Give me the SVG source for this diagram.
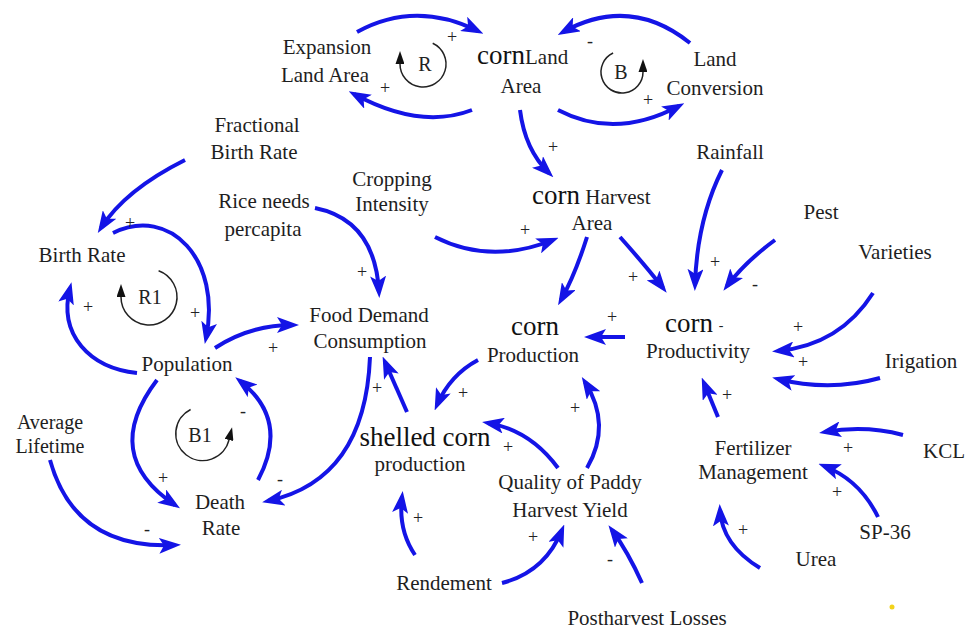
<svg xmlns="http://www.w3.org/2000/svg" width="972" height="630" viewBox="0 0 972 630" font-family="Liberation Serif, Times New Roman, Times, serif">
<style>
text{font-family:'Liberation Serif','Times New Roman',Times,serif}
.lbl{font-size:21px;fill:#1e1e1e;text-anchor:middle}
.st{text-anchor:start}
.big{font-size:27px;fill:#111}
.sgn{font-size:18px;fill:#222;text-anchor:middle}
.c{fill:none;stroke:#1414e6;stroke-width:4;marker-end:url(#ah)}
.loop{fill:none;stroke:#222;stroke-width:1.5;marker-end:url(#la)}
.lt{font-size:20px;fill:#222;text-anchor:middle}
</style>
<defs>
<marker id="ah" viewBox="0 0 22 16" markerWidth="22" markerHeight="16" refX="16" refY="8" orient="auto" markerUnits="userSpaceOnUse">
<path d="M0,0 L22,8 L0,16 L5,8 z" fill="#1414e6"/>
</marker>
<marker id="la" viewBox="0 0 13 9" markerWidth="13" markerHeight="9" refX="0" refY="4.5" orient="auto" markerUnits="userSpaceOnUse">
<path d="M0,0 L13,4.5 L0,9 z" fill="#111"/>
</marker>
</defs>
<rect width="972" height="630" fill="#fff"/>

<g id="connectors">
<path class="c" d="M357,32 Q415,0 478,31"/>
<path class="c" d="M472,110 Q420,130 354,94"/>
<path class="c" d="M690,43 Q630,-5 563,32"/>
<path class="c" d="M558,110 Q615,140 679,106"/>
<path class="c" d="M520,110 Q525,150 549,173"/>
<path class="c" d="M435,237 Q490,265 553,240"/>
<path class="c" d="M587,237 Q575,275 561,300"/>
<path class="c" d="M620,237 Q645,265 663,288"/>
<path class="c" d="M625,337 L590,337"/>
<path class="c" d="M722,170 Q697,220 695,285"/>
<path class="c" d="M775,240 Q745,262 727,286"/>
<path class="c" d="M873,293 Q840,345 778,351"/>
<path class="c" d="M880,378 Q830,392 778,379"/>
<path class="c" d="M718,417 L704,383"/>
<path class="c" d="M903,435 Q865,425 825,432"/>
<path class="c" d="M878,517 Q860,480 824,466"/>
<path class="c" d="M760,568 Q722,545 720,510"/>
<path class="c" d="M642,583 Q628,552 612,530"/>
<path class="c" d="M502,583 Q545,572 562,530"/>
<path class="c" d="M415,555 Q398,530 402,497"/>
<path class="c" d="M558,468 Q530,430 488,423"/>
<path class="c" d="M587,468 Q612,425 585,382"/>
<path class="c" d="M478,360 Q450,375 437,405"/>
<path class="c" d="M407,412 Q395,385 385,362"/>
<path class="c" d="M370,357 Q365,480 268,501"/>
<path class="c" d="M215,348 Q250,325 293,325"/>
<path class="c" d="M157,380 Q100,455 175,505"/>
<path class="c" d="M258,480 Q290,420 240,381"/>
<path class="c" d="M50,460 Q75,550 175,545"/>
<path class="c" d="M185,160 Q125,190 101,228"/>
<path class="c" d="M113,233 C170,205 222,260 206,338"/>
<path class="c" d="M137,373 C90,368 58,335 70,288"/>
<path class="c" d="M315,208 Q375,220 379,292"/>
</g>

<g id="loop-R">
<path class="loop" d="M432.7,43.2 A23,23 0 1 1 400,64"/>
<text class="lt" x="425" y="71">R</text>
</g>
<g id="loop-B">
<path class="loop" d="M613.1,53 A21,21 0 1 0 643,72"/>
<text class="lt" x="621" y="79">B</text>
</g>
<g id="loop-R1">
<path class="loop" d="M158.6,270.7 A28,28 0 1 1 121,297"/>
<text class="lt" x="150" y="304">R1</text>
</g>
<g id="loop-B1">
<path class="loop" d="M190.6,409.5 A27,27 0 1 0 229,440"/>
<text class="lt" x="200" y="442">B1</text>
</g>

<g id="expansion-land-area"><text class="lbl" x="327" y="54">Expansion</text><text class="lbl" x="325" y="82">Land Area</text></g>
<g id="corn-land-area"><text class="lbl st" x="477" y="64"><tspan class="big">corn</tspan>Land</text><text class="lbl" x="521" y="93">Area</text></g>
<g id="land-conversion"><text class="lbl" x="715" y="66">Land</text><text class="lbl" x="715" y="95">Conversion</text></g>
<g id="fractional-birth-rate"><text class="lbl" x="257" y="132">Fractional</text><text class="lbl" x="254" y="159">Birth Rate</text></g>
<g id="rice-needs"><text class="lbl" x="264" y="208">Rice needs</text><text class="lbl" x="263" y="236">percapita</text></g>
<g id="cropping-intensity"><text class="lbl" x="392" y="186">Cropping</text><text class="lbl" x="392" y="211">Intensity</text></g>
<g id="corn-harvest-area"><text class="lbl st" x="532" y="204"><tspan class="big">corn</tspan> Harvest</text><text class="lbl" x="592" y="230">Area</text></g>
<g id="rainfall"><text class="lbl" x="730" y="159">Rainfall</text></g>
<g id="pest"><text class="lbl" x="821" y="219">Pest</text></g>
<g id="varieties"><text class="lbl" x="895" y="259">Varieties</text></g>
<g id="birth-rate"><text class="lbl" x="82" y="262">Birth Rate</text></g>
<g id="food-demand"><text class="lbl" x="369" y="322">Food Demand</text><text class="lbl" x="370" y="348">Consumption</text></g>
<g id="corn-production"><text class="lbl big" x="535" y="335">corn</text><text class="lbl" x="533" y="362">Production</text></g>
<g id="corn-productivity"><text class="lbl big" x="689" y="332">corn</text><text class="sgn" x="721" y="330" style="font-size:14px">-</text><text class="lbl" x="698" y="358">Productivity</text></g>
<g id="irigation"><text class="lbl" x="921" y="368">Irigation</text></g>
<g id="population"><text class="lbl" x="187" y="371">Population</text></g>
<g id="average-lifetime"><text class="lbl" x="50" y="429" style="font-size:20px">Average</text><text class="lbl" x="50" y="453" style="font-size:20px">Lifetime</text></g>
<g id="shelled-corn-production"><text class="lbl big" x="425" y="446">shelled corn</text><text class="lbl" x="420" y="471">production</text></g>
<g id="fertilizer-management"><text class="lbl" x="753" y="455">Fertilizer</text><text class="lbl" x="753" y="479">Management</text></g>
<g id="kcl"><text class="lbl" x="944" y="458">KCL</text></g>
<g id="quality"><text class="lbl" x="570" y="489">Quality of Paddy</text><text class="lbl" x="570" y="517">Harvest Yield</text></g>
<g id="death-rate"><text class="lbl" x="220" y="509">Death</text><text class="lbl" x="221" y="535">Rate</text></g>
<g id="sp36"><text class="lbl" x="885" y="539">SP-36</text></g>
<g id="urea"><text class="lbl" x="816" y="566">Urea</text></g>
<g id="rendement"><text class="lbl" x="444" y="590">Rendement</text></g>
<g id="postharvest-losses"><text class="lbl" x="647" y="625">Postharvest Losses</text></g>

<g id="signs">
<text class="sgn" x="452" y="43">+</text>
<text class="sgn" x="385" y="94">+</text>
<text class="sgn" x="590" y="47">-</text>
<text class="sgn" x="648" y="106">+</text>
<text class="sgn" x="553" y="153">+</text>
<text class="sgn" x="525" y="236">+</text>
<text class="sgn" x="633" y="283">+</text>
<text class="sgn" x="612" y="323">+</text>
<text class="sgn" x="715" y="268">+</text>
<text class="sgn" x="755" y="290">-</text>
<text class="sgn" x="798" y="333">+</text>
<text class="sgn" x="803" y="368">+</text>
<text class="sgn" x="727" y="401">+</text>
<text class="sgn" x="848" y="454">+</text>
<text class="sgn" x="837" y="498">+</text>
<text class="sgn" x="743" y="536">+</text>
<text class="sgn" x="610" y="565">-</text>
<text class="sgn" x="533" y="543">+</text>
<text class="sgn" x="418" y="524">+</text>
<text class="sgn" x="508" y="453">+</text>
<text class="sgn" x="575" y="414">+</text>
<text class="sgn" x="463" y="399">+</text>
<text class="sgn" x="377" y="394">+</text>
<text class="sgn" x="280" y="485">-</text>
<text class="sgn" x="243" y="417">-</text>
<text class="sgn" x="273" y="354">+</text>
<text class="sgn" x="163" y="484">+</text>
<text class="sgn" x="147" y="535">-</text>
<text class="sgn" x="362" y="278">+</text>
<text class="sgn" x="130" y="229">+</text>
<text class="sgn" x="195" y="319">+</text>
<text class="sgn" x="88" y="313">+</text>
</g>
<circle cx="892" cy="607" r="2.5" fill="#f2d21a"/>
</svg>
